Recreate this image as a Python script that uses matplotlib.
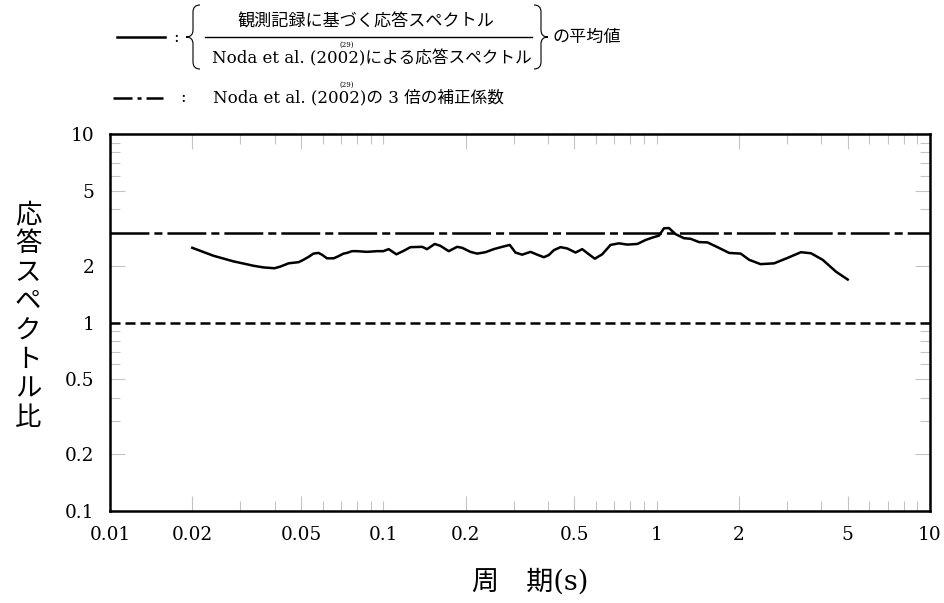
import numpy as np
import matplotlib
matplotlib.use('Agg')
from matplotlib import pyplot as plt
from matplotlib.ticker import LogLocator, FuncFormatter
from matplotlib.lines import Line2D
from matplotlib.path import Path
from matplotlib.patches import PathPatch

# 周期 (s) と 応答スペクトル比の平均値
period = [0.020, 0.0239, 0.0283, 0.0335, 0.0364, 0.040, 0.042, 0.045, 0.049, 0.051,
          0.0533, 0.0555, 0.0579, 0.0596, 0.0622, 0.0658, 0.0686, 0.0715, 0.0736, 0.0768,
          0.0801, 0.0871, 0.0948, 0.100, 0.1046, 0.1116, 0.1187, 0.1256, 0.1387, 0.1445,
          0.1542, 0.1618, 0.1735, 0.1862, 0.1943, 0.2083, 0.2204, 0.2364, 0.2535, 0.2722,
          0.290, 0.3044, 0.322, 0.3456, 0.3656, 0.3866, 0.4032, 0.4206, 0.445, 0.471,
          0.505, 0.534, 0.565, 0.594, 0.632, 0.678, 0.728, 0.781, 0.850, 0.911,
          0.964, 1.02, 1.063, 1.109, 1.174, 1.259, 1.332, 1.428, 1.534, 1.669,
          1.84, 2.03, 2.18, 2.40, 2.69, 3.01, 3.37, 3.67, 4.05, 4.53, 5.0]
ratio = [2.49, 2.26, 2.11, 2.00, 1.96, 1.94, 1.98, 2.06, 2.09, 2.15,
         2.23, 2.32, 2.34, 2.29, 2.19, 2.19, 2.25, 2.32, 2.34, 2.39,
         2.39, 2.37, 2.39, 2.39, 2.45, 2.30, 2.40, 2.51, 2.52, 2.45,
         2.61, 2.55, 2.39, 2.52, 2.49, 2.37, 2.32, 2.36, 2.45, 2.52,
         2.58, 2.35, 2.29, 2.37, 2.29, 2.22, 2.28, 2.42, 2.51, 2.47,
         2.35, 2.45, 2.30, 2.18, 2.30, 2.58, 2.63, 2.59, 2.61, 2.74,
         2.82, 2.89, 3.16, 3.17, 2.94, 2.80, 2.78, 2.67, 2.66, 2.51,
         2.34, 2.32, 2.15, 2.04, 2.06, 2.20, 2.36, 2.33, 2.15, 1.86, 1.69]

factor = 3.0      # 3倍の補正係数
unity = 1.0

plt.rcParams['lines.scale_dashes'] = False
jp = ['DejaVu Serif', 'Noto Sans CJK JP']

W, H = 944, 603
fig = plt.figure(figsize=(W / 100, H / 100), dpi=100)
ax = fig.add_axes([110 / W, 1 - 511 / H, 820 / W, 377 / H])

def px(x, y):
    return x / W, 1 - y / H

ax.plot(period, ratio, color='black', lw=1.8, zorder=3)
ax.axhline(factor, color='black', lw=1.8, dashes=(28, 3.6, 5.8, 3.6))
ax.axhline(unity, color='black', lw=1.8, dashes=(7.2, 3.6))

ax.set_xscale('log'); ax.set_yscale('log')
ax.set_xlim(0.01, 10); ax.set_ylim(0.1, 10)

def lab(v, pos=None):
    return f'{v:g}'

def decade_lab(v, pos=None):
    e = np.log10(v)
    return f'{v:g}' if abs(e - round(e)) < 1e-6 else ''

for axis in (ax.xaxis, ax.yaxis):
    axis.set_major_locator(LogLocator(base=10, subs=(2, 5), numticks=50))
    axis.set_minor_locator(LogLocator(base=10, subs=(1, 3, 4, 6, 7, 8, 9), numticks=50))
    axis.set_major_formatter(FuncFormatter(lab))
    axis.set_minor_formatter(FuncFormatter(decade_lab))

ax.tick_params(which='both', direction='in', top=True, right=True,
               color='#c4c4c4', width=0.8, labelsize=13.3, pad=11,
               labelfontfamily='DejaVu Serif')
ax.tick_params(which='major', length=11)
ax.tick_params(which='minor', length=7)
for s in ax.spines.values():
    s.set_linewidth(1.8)

# 縦書きの軸ラベル
ylab = '応答スペクトル比'
for i, ch in enumerate(ylab):
    fig.text(*px(28, 215 + i * 28.9), ch, family='Noto Sans CJK JP', fontsize=19,
             ha='center', va='center')
fig.text(*px(530, 582), '周　期(s)', family=jp, fontsize=19.5, ha='center', va='center')

# 凡例
def brace(x_tip, x_mid, x_end, top, mid, bot):
    k = 7
    verts = [(x_end, top), (x_mid, top), (x_mid, top + k), (x_mid, top + k),
             (x_mid, mid - k), (x_mid, mid), (x_tip, mid),
             (x_mid, mid), (x_mid, mid + k),
             (x_mid, bot - k), (x_mid, bot - k), (x_mid, bot), (x_end, bot)]
    codes = [Path.MOVETO, Path.CURVE3, Path.CURVE3, Path.LINETO,
             Path.LINETO, Path.CURVE3, Path.CURVE3,
             Path.CURVE3, Path.CURVE3,
             Path.LINETO, Path.LINETO, Path.CURVE3, Path.CURVE3]
    verts = [px(x, y) for x, y in verts]
    fig.add_artist(PathPatch(Path(verts, codes), fill=False, lw=0.8, color='black',
                             transform=fig.transFigure))

def hline(x0, x1, y, **kw):
    (a, b), (c, d) = px(x0, y), px(x1, y)
    fig.add_artist(Line2D([a, c], [b, d], color='black', transform=fig.transFigure, **kw))

row1, row2 = 37, 98
hline(117, 165, row1, lw=1.8)
fig.text(*px(176, row1), ':', family=jp, fontsize=12, ha='center', va='center')
brace(186, 193, 200, 5, row1, 69)
fig.text(*px(366, 22), '観測記録に基づく応答スペクトル', family=jp, fontsize=12.3,
         ha='center', va='center')
hline(205, 532, row1, lw=1.0)
fig.text(*px(212, 59), 'Noda et al. (2002)による応答スペクトル', family=jp, fontsize=12,
         ha='left', va='center')
fig.text(*px(347, 45), '(29)', family='DejaVu Serif', fontsize=5, ha='center', va='center')
brace(548, 541, 534, 5, row1, 69)
fig.text(*px(552, row1), 'の平均値', family=jp, fontsize=12.3, ha='left', va='center')

hline(113, 163, row2, lw=1.8, dashes=(13.7, 3.6, 2.9, 3.6))
fig.text(*px(183, row2), ':', family=jp, fontsize=12, ha='center', va='center')
fig.text(*px(213, row2), 'Noda et al. (2002)の 3 倍の補正係数', family=jp, fontsize=12,
         ha='left', va='center')
fig.text(*px(347, 85), '(29)', family='DejaVu Serif', fontsize=5, ha='center', va='center')

fig.savefig('out.png', dpi=100, facecolor='white')
